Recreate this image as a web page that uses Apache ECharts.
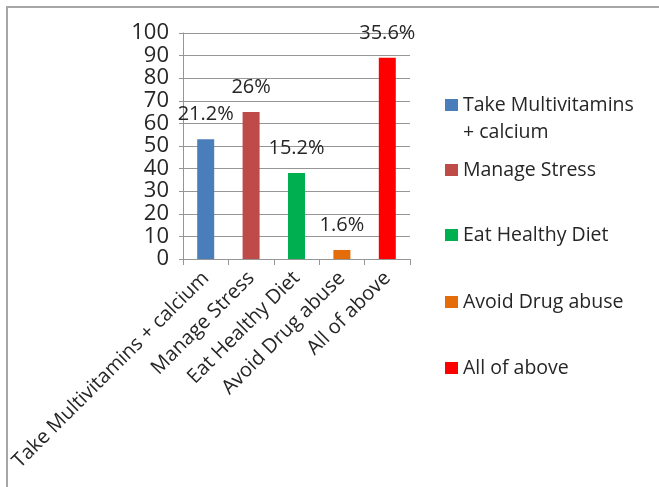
<!DOCTYPE html>
<html>
<head>
<meta charset="utf-8">
<script src="https://cdn.jsdelivr.net/npm/echarts@6/dist/echarts.min.js"></script>
<style>
  html, body { margin: 0; padding: 0; background: #fff; }
  #chart { width: 659px; height: 487px; }
</style>
</head>
<body>
<div id="chart"></div>
<script>
// Survey responses: counts per option, labelled as share of 250 respondents
const categories = ['Take Multivitamins + calcium', 'Manage Stress', 'Eat Healthy Diet', 'Avoid Drug abuse', 'All of above'];
const counts = [53, 65, 38, 4, 89];
const shareLabels = ['21.2%', '26%', '15.2%', '1.6%', '35.6%'];
const barColors = ['#4A7EBB', '#BE4B48', '#00B050', '#E46C0A', '#FF0000'];
const yTicks = { min: 0, max: 100, interval: 10 };

const FONT = 'Open Sans';
const textColor = '#262626';
const axisGray = '#969696';

// one series per option so each gets its own legend entry; bars overlap at the same slot
const series = categories.map((name, i) => ({
  name: name,
  type: 'bar',
  barWidth: 17,
  barGap: '-100%',
  itemStyle: { color: barColors[i] },
  data: counts.map((v, j) => (j === i ? v : '-')),
  label: {
    show: true,
    position: 'top',
    distance: 15,
    fontFamily: FONT,
    fontSize: 20,
    color: textColor,
    formatter: () => shareLabels[i]
  }
}));

// legend entries down the right side; the long first entry wraps onto a second line,
// with a blank leading line so the swatch sits beside its first line
const LINE_H = 27;
const legendCentres = [105, 170, 235, 302, 368];
const legends = categories.map((name, i) => ({
  data: [name],
  orient: 'vertical',
  left: 445,
  top: legendCentres[i] - (i === 0 ? 1.5 * LINE_H : 0.5 * LINE_H),
  padding: 0,
  itemWidth: 13,
  itemHeight: 12,
  itemGap: 0,
  itemStyle: { borderWidth: 0 },
  icon: 'rect',
  textStyle: {
    fontFamily: FONT,
    fontSize: 19.5,
    color: textColor,
    lineHeight: LINE_H
  },
  formatter: n => (i === 0 ? ' \nTake Multivitamins\n+ calcium' : n),
  selectedMode: false
}));

const chart = echarts.init(document.getElementById('chart'), null, { renderer: 'canvas' });
chart.setOption({
  backgroundColor: '#fff',
  animation: false,
  graphic: [{
    type: 'rect',
    shape: { x: 7, y: 7, width: 700, height: 520 },
    style: { fill: 'none', stroke: '#A6A6A6', lineWidth: 2 },
    silent: true,
    z: -10
  }],
  legend: legends,
  grid: { left: 183, right: 249, top: 33, bottom: 228, containLabel: false },
  xAxis: {
    type: 'category',
    data: categories,
    axisLine: { lineStyle: { color: axisGray, width: 1 } },
    axisTick: { show: true, length: 6, alignWithLabel: false, lineStyle: { color: axisGray } },
    axisLabel: {
      interval: 0,
      rotate: 45,
      margin: 16,
      fontFamily: FONT,
      fontSize: 20,
      color: textColor
    }
  },
  yAxis: {
    type: 'value',
    min: yTicks.min,
    max: yTicks.max,
    interval: yTicks.interval,
    axisLine: { show: true, lineStyle: { color: axisGray, width: 1 } },
    axisTick: { show: true, length: 4, lineStyle: { color: axisGray } },
    splitLine: { show: true, lineStyle: { color: axisGray, width: 1 } },
    axisLabel: {
      margin: 14,
      fontFamily: FONT,
      fontSize: 22,
      color: textColor
    }
  },
  series: series
});
</script>
</body>
</html>
